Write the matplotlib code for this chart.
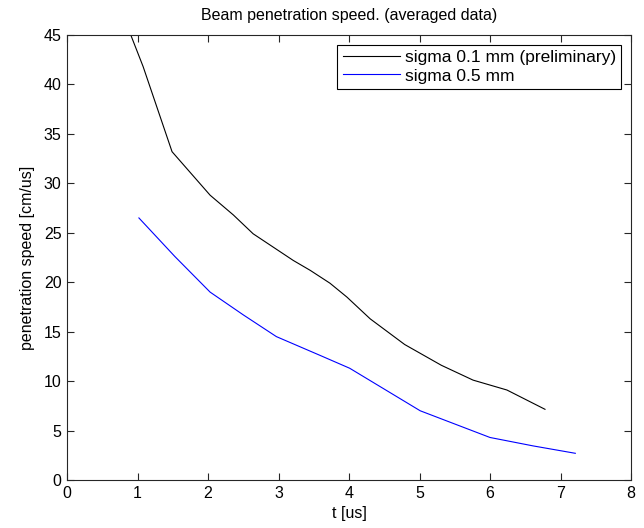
import matplotlib
matplotlib.use('Agg')
import matplotlib.pyplot as plt

plt.rcParams['font.family'] = ['Liberation Sans', 'DejaVu Sans']

# sigma 0.1 mm (preliminary)
t_01 = [0.85, 1.08, 1.49, 2.03, 2.36, 2.64, 3.21, 3.45, 3.73, 3.97, 4.30, 4.79, 5.31, 5.76, 6.24, 6.78]
v_01 = [46.0, 41.8, 33.2, 28.8, 26.8, 24.9, 22.2, 21.2, 19.9, 18.5, 16.3, 13.7, 11.6, 10.1, 9.1, 7.15]

# sigma 0.5 mm
t_05 = [1.02, 1.53, 2.03, 2.50, 2.97, 3.59, 4.01, 5.01, 6.00, 6.61, 7.21]
v_05 = [26.5, 22.6, 19.0, 16.7, 14.5, 12.6, 11.3, 7.0, 4.3, 3.45, 2.7]

xticks = list(range(0, 9))
yticks = list(range(0, 50, 5))

fig = plt.figure(figsize=(6.44, 5.28), dpi=100)
ax = fig.add_axes([67 / 644, 1 - 480 / 528, 564 / 644, 445 / 528])

ax.plot(t_01, v_01, color='black', lw=0.8, label='sigma 0.1 mm (preliminary)')
ax.plot(t_05, v_05, color='blue', lw=0.8, label='sigma 0.5 mm')

ax.set_xlim(0, 8)
ax.set_ylim(0, 45)
ax.set_xticks(xticks)
ax.set_yticks(yticks)
ax.tick_params(direction='in', length=5, width=0.8, top=True, right=True,
               labelsize=11.5, pad=4, color='#262626')
for s in ax.spines.values():
    s.set_linewidth(0.8)
    s.set_color('#262626')

ax.set_xlabel('t [us]', fontsize=11.5, labelpad=4)
ax.set_ylabel('penetration speed [cm/us]', fontsize=11.5, labelpad=6)
ax.set_title('Beam penetration speed. (averaged data)', fontsize=11.5, pad=11)

leg = ax.legend(loc='upper right', fontsize=12.5, fancybox=False, framealpha=1,
                edgecolor='black', handlelength=3.3, handletextpad=0.3,
                labelspacing=0.2, borderaxespad=0.55, borderpad=0.3)
leg.get_frame().set_linewidth(0.8)

fig.savefig('out.png', dpi=100)
